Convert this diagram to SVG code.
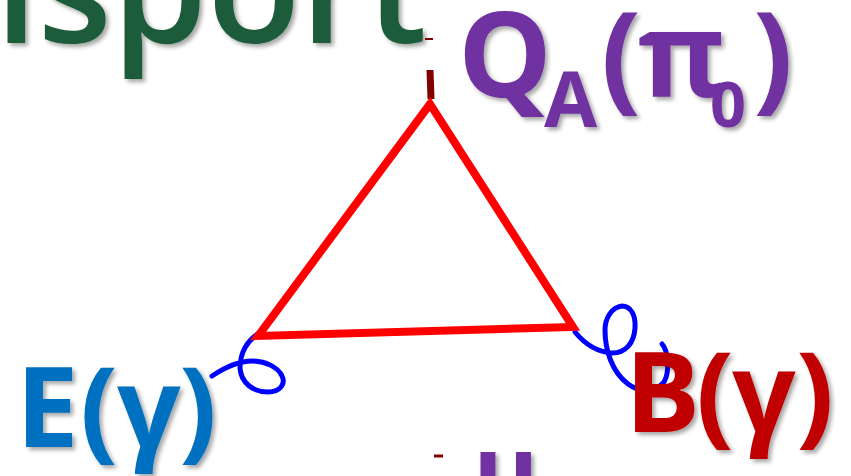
<svg xmlns="http://www.w3.org/2000/svg" width="851" height="476" viewBox="0 0 851 476">
<defs>
<filter id="sh" x="-10%" y="-10%" width="130%" height="130%">
<feDropShadow dx="3" dy="3" stdDeviation="2" flood-color="#000" flood-opacity="0.35"/>
</filter>
</defs>
<style>
.lbl{font-family:"Open Sans","Liberation Sans",sans-serif;font-weight:700;filter:url(#sh)}
.red{fill:none;stroke:#FF0000;stroke-width:8;stroke-linecap:round;stroke-linejoin:miter}
.blue{fill:none;stroke:#0000FF;stroke-width:5;stroke-linecap:round;stroke-linejoin:round}
.mark{stroke:#800000;fill:none}
</style>
<rect width="851" height="476" fill="#FFFFFF"/>
<g id="title">
<text class="lbl" x="-5" y="43" font-size="150" fill="#1E5B3A" textLength="432" lengthAdjust="spacingAndGlyphs" style="font-weight:600">isport</text>
</g>
<g id="marks">
<line class="mark" x1="425" y1="39" x2="433" y2="39" stroke-width="2"/>
<line class="mark" x1="430" y1="70" x2="431" y2="99" stroke-width="7"/>
<line class="mark" x1="434" y1="456" x2="443" y2="456" stroke-width="3"/>
</g>
<g id="connectors">
<path class="blue" d="M258,334 C248,340 240,352 240,368 C241,382 252,392 268,392 C280,392 286,384 282,376 C278,367 265,361 252,361 C238,361 224,368 212,376"/>
<path class="blue" d="M575,332 C584,343 596,352 612,353 C626,353 634,343 635,328 C636,314 630,306 622,306 C612,307 605,318 605,330 C605,350 612,372 628,384 C640,393 656,392 664,382 C670,372 668,350 662,344"/>
<polygon class="red" points="430,104 258,336 573,327"/>
</g>
<g id="QA">
<text class="lbl" y="97" font-size="118" fill="#7030A0"><tspan x="458">Q</tspan><tspan x="544" y="127" font-size="77">A</tspan><tspan x="601" y="97">(</tspan><tspan x="638">π</tspan><tspan x="710" y="127" font-size="63">0</tspan><tspan x="753" y="97">)</tspan></text>
</g>
<g id="E">
<text class="lbl" y="447" font-size="112" fill="#0070C0"><tspan x="16">E</tspan><tspan x="80">(</tspan><tspan x="117">γ</tspan><tspan x="179">)</tspan></text>
</g>
<g id="B">
<text class="lbl" y="432" font-size="112" fill="#C00000"><tspan x="625">B</tspan><tspan x="696">(</tspan><tspan x="732">γ</tspan><tspan x="796">)</tspan></text>
</g>
<g id="bottom">
<text class="lbl" x="473" y="507" font-size="100" fill="#7030A0">u</text>
</g>
</svg>
